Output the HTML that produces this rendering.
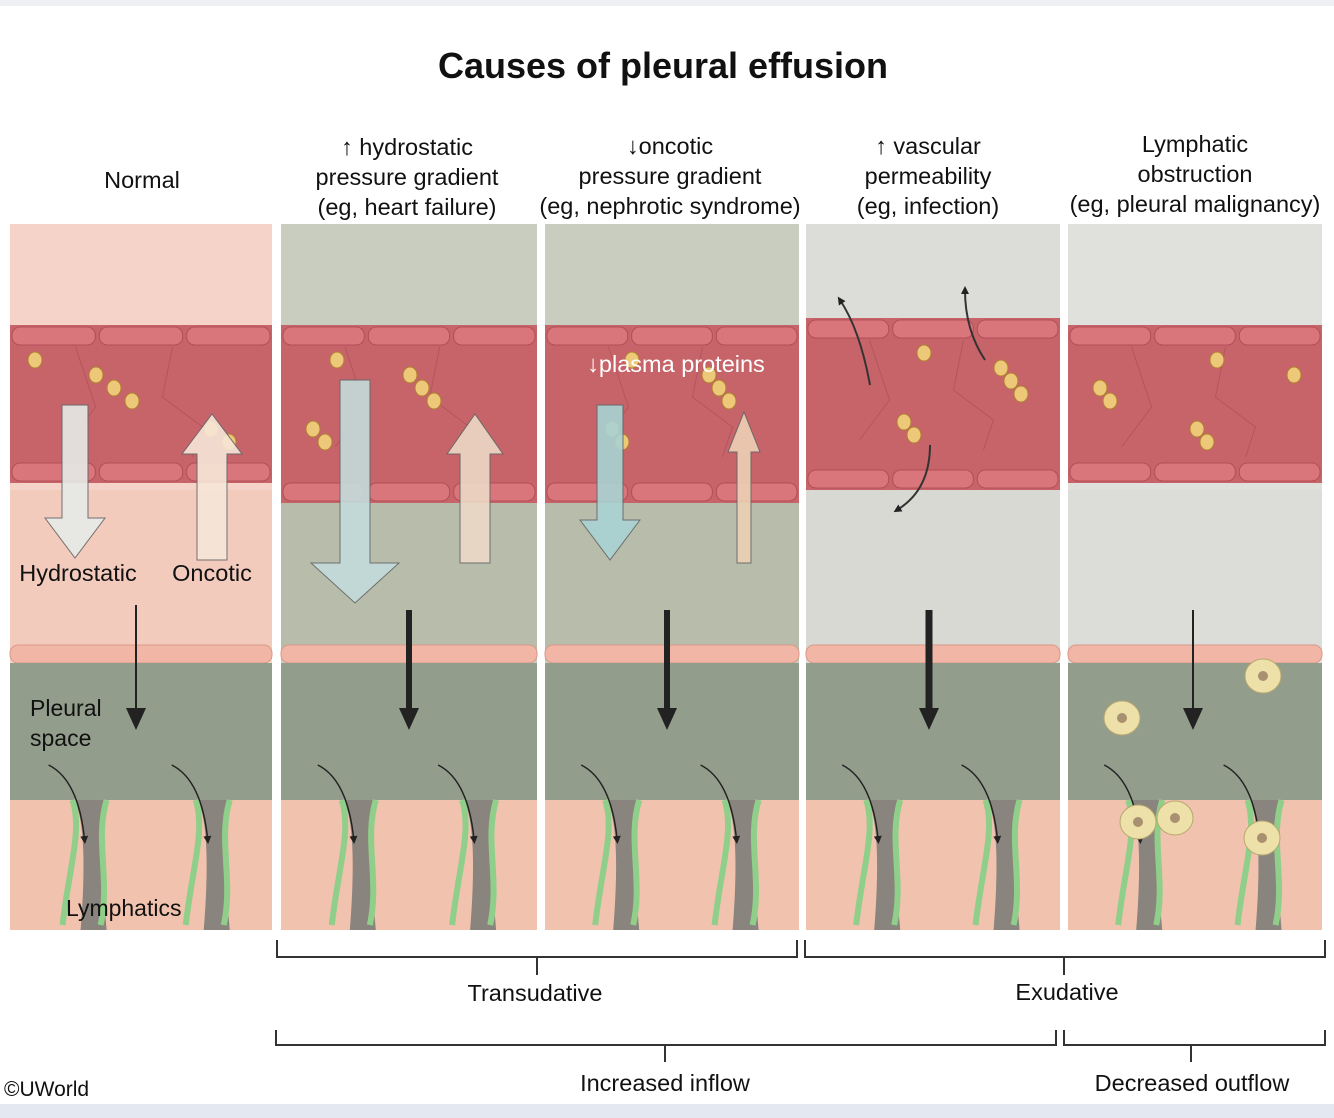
<!DOCTYPE html>
<html><head><meta charset="utf-8"><style>
html,body{margin:0;padding:0;background:#fff}
svg{display:block}
text{font-family:"Liberation Sans",Arial,sans-serif;fill:#111}
</style></head><body>
<svg id="s" width="1334" height="1118" viewBox="0 0 1334 1118" xmlns="http://www.w3.org/2000/svg">
<defs>
<marker id="ah" markerWidth="8" markerHeight="8" refX="4" refY="4" orient="auto" markerUnits="userSpaceOnUse"><path d="M0,0 L8,4 L0,8 Z" fill="#222"/></marker>
</defs>
<rect x="0" y="0" width="1334" height="1118" fill="#fff"/>
<rect x="0" y="0" width="1334" height="6" fill="#eef0f3"/>
<rect x="0" y="1104" width="1334" height="14" fill="#e4e8f0"/>
<g id="shapes"></g>
<text x="663" y="78" font-size="36" font-weight="bold" text-anchor="middle">Causes of pleural effusion</text>
<g font-size="23.5" text-anchor="middle">
<text x="142" y="188">Normal</text>
<text x="407" y="155">↑ hydrostatic</text>
<text x="407" y="185">pressure gradient</text>
<text x="407" y="215">(eg, heart failure)</text>
<text x="670" y="154">↓oncotic</text>
<text x="670" y="184">pressure gradient</text>
<text x="670" y="214">(eg, nephrotic syndrome)</text>
<text x="928" y="154">↑ vascular</text>
<text x="928" y="184">permeability</text>
<text x="928" y="214">(eg, infection)</text>
<text x="1195" y="152">Lymphatic</text>
<text x="1195" y="182">obstruction</text>
<text x="1195" y="212">(eg, pleural malignancy)</text>
<text x="535" y="1001">Transudative</text>
<text x="1067" y="1000">Exudative</text>
<text x="665" y="1091">Increased inflow</text>
<text x="1192" y="1091">Decreased outflow</text>
<text x="78" y="581">Hydrostatic</text>
<text x="212" y="581">Oncotic</text>
<text x="676" y="372" style="fill:#fff">↓plasma proteins</text>
</g>
<g font-size="23">
<text x="30" y="716">Pleural</text>
<text x="30" y="746">space</text>
<text x="66" y="916">Lymphatics</text>
<text x="4" y="1096" font-size="21">©UWorld</text>
</g>
<g fill="none" stroke="#333" stroke-width="2">
<path d="M277,940 V957 H797 V940 M537,957 V975"/>
<path d="M805,940 V957 H1325 V940 M1064,957 V975"/>
<path d="M276,1030 V1045 H1056 V1030 M665,1045 V1062"/>
<path d="M1064,1030 V1045 H1325 V1030 M1191,1045 V1062"/>
</g>
</svg>
<script>
var g=document.getElementById('shapes');var h='';
var P=[[10,272,'#f6d3c8','#f3cbbd'],[281,537,'#c9cdbf','#b8bdab'],[545,799,'#c9cdbf','#b8bdab'],[806,1060,'#dcddd8','#d8d9d3'],[1068,1322,'#e0e1dc','#dcddd8']];
P.forEach(function(p,i){var x=p[0],w=p[1]-p[0];
h+='<rect x="'+x+'" y="224" width="'+w+'" height="706" fill="'+p[2]+'"/>';
h+='<rect x="'+x+'" y="490" width="'+w+'" height="160" fill="'+p[3]+'"/>';
var vy=(i==3)?318:325, vb=(i==3)?490:(i==1||i==2)?503:483;
h+='<rect x="'+x+'" y="'+vy+'" width="'+w+'" height="'+(vb-vy)+'" fill="#c7646a"/>';
for(var k=0;k<3;k++){var cx=x+k*w/3;
h+='<rect x="'+(cx+2)+'" y="'+(vy+2)+'" width="'+(w/3-4)+'" height="18" rx="8" fill="#d9767b" stroke="#b24e55"/>';
h+='<rect x="'+(cx+2)+'" y="'+(vb-20)+'" width="'+(w/3-4)+'" height="18" rx="8" fill="#d9767b" stroke="#b24e55"/>';}
h+='<path d="M'+(x+w*0.25)+','+(vy+22)+' l20,60 l-30,40 M'+(x+w*0.62)+','+(vy+22)+' l-10,50 l40,30 l-10,30" stroke="#b4555b" fill="none"/>';
for(var k=0;k<6;k++){var px=x+25+((k*97+i*31)%(w-50)),py=vy+35+((k*41)%95);
h+='<ellipse cx="'+px+'" cy="'+py+'" rx="7" ry="8" fill="#ecc878" stroke="#b08030"/>';}
h+='<rect x="'+x+'" y="645" width="'+w+'" height="18" rx="8" fill="#f2b6a6" stroke="#d89888"/>';
h+='<rect x="'+x+'" y="663" width="'+w+'" height="140" fill="#939d8c"/>';
h+='<rect x="'+x+'" y="800" width="'+w+'" height="130" fill="#f1c2ae"/>';
[0.3,0.77].forEach(function(f){var gx=x+w*f;
h+='<path d="M'+(gx-14)+',800 Q'+gx+',830 '+(gx-8)+',930 L'+(gx+18)+',930 Q'+(gx+10)+',840 '+(gx+16)+',800Z" fill="#6f7470" opacity="0.8"/>';
h+='<path d="M'+(gx-16)+',800 C'+(gx-6)+',830 '+(gx-20)+',870 '+(gx-26)+',925 M'+(gx+18)+',800 C'+(gx+6)+',840 '+(gx+22)+',880 '+(gx+12)+',925" stroke="#8fcf8a" stroke-width="6" fill="none"/>';
h+='<path d="M'+(gx-40)+',765 Q'+(gx-10)+',780 '+(gx-4)+',840" stroke="#222" stroke-width="1.5" fill="none" marker-end="url(#ah)"/>';});
});
function big(x,y1,y2,w,hw,fill,up){if(!up)return '<path d="M'+(x-w)+','+y1+' V'+(y2-40)+' H'+(x-hw)+' L'+x+','+y2+' L'+(x+hw)+','+(y2-40)+' H'+(x+w)+' V'+y1+'Z" fill="'+fill+'" stroke="#666" opacity="0.9"/>';
return '<path d="M'+(x-w)+','+y1+' V'+(y2+40)+' H'+(x-hw)+' L'+x+','+y2+' L'+(x+hw)+','+(y2+40)+' H'+(x+w)+' V'+y1+'Z" fill="'+fill+'" stroke="#666" opacity="0.9"/>';}
h+=big(75,405,558,13,30,'#e6ebe8',0)+big(212,560,414,15,30,'#f6e7d8',1);
h+=big(355,380,603,15,44,'#c4dcdc',0)+big(475,563,414,15,28,'#ecd9c6',1);
h+=big(610,405,560,13,30,'#a9d3d3',0)+big(744,563,412,7,16,'#ecd0b4',1);
function ar(x,y1,y2,sw){return '<path d="M'+x+','+y1+' V'+(y2-18)+'" stroke="#222" stroke-width="'+sw+'"/><path d="M'+(x-10)+','+(y2-22)+' L'+x+','+y2+' L'+(x+10)+','+(y2-22)+'Z" fill="#222"/>';}
h+=ar(136,605,730,2)+ar(409,610,730,6)+ar(667,610,730,6)+ar(929,610,730,7)+ar(1193,610,730,2);
h+='<path d="M870,385 Q860,330 840,300" stroke="#333" stroke-width="2" fill="none" marker-end="url(#ah)"/><path d="M985,360 Q965,330 965,290" stroke="#333" stroke-width="2" fill="none" marker-end="url(#ah)"/><path d="M930,445 Q930,490 897,510" stroke="#333" stroke-width="2" fill="none" marker-end="url(#ah)"/>';
[[1122,718],[1263,676],[1138,822],[1175,818],[1262,838]].forEach(function(c){h+='<ellipse cx="'+c[0]+'" cy="'+c[1]+'" rx="18" ry="17" fill="#ede0a8" stroke="#b8a870"/><circle cx="'+c[0]+'" cy="'+c[1]+'" r="5" fill="#a89070"/>';});
g.innerHTML=h;
</script>
</body></html>
